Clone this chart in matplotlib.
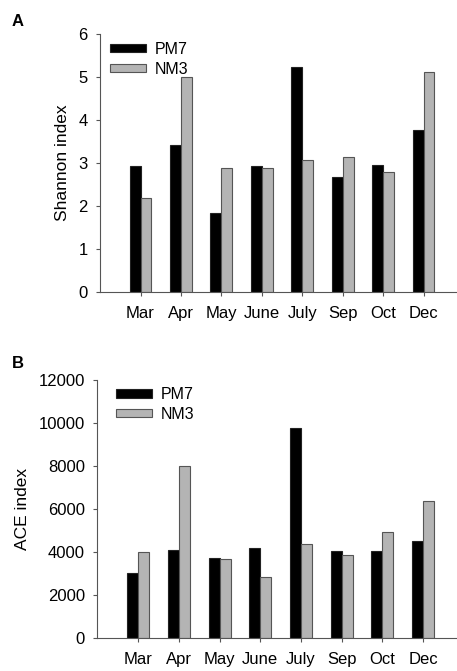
import numpy as np
import matplotlib.pyplot as plt

plt.rcParams['font.family'] = ['Liberation Sans', 'DejaVu Sans']

months = ['Mar', 'Apr', 'May', 'June', 'July', 'Sep', 'Oct', 'Dec']
shannon_pm7 = [2.93, 3.43, 1.83, 2.93, 5.23, 2.68, 2.95, 3.77]
shannon_nm3 = [2.18, 5.01, 2.88, 2.88, 3.06, 3.15, 2.80, 5.13]
ace_pm7 = [3050, 4100, 3750, 4220, 9800, 4070, 4080, 4550]
ace_nm3 = [4040, 8030, 3700, 2840, 4390, 3880, 4940, 6400]

fig = plt.figure(figsize=(4.57, 6.71), dpi=100)
ax1 = fig.add_axes([0.219, 0.565, 0.79, 0.384])
ax2 = fig.add_axes([0.213, 0.0487, 0.796, 0.3843])

x = np.arange(len(months))
w = 0.27
grey = '#b4b4b4'


def draw(ax, pm7, nm3, ylabel, ymax, step, leg_anchor):
    ax.bar(x - w / 2, pm7, w, color='black', edgecolor='#222222', linewidth=0.8, label='PM7')
    ax.bar(x + w / 2, nm3, w, color=grey, edgecolor='#555555', linewidth=0.8, label='NM3')
    ax.set_xlim(-1, 7.93)
    ax.set_ylim(0, ymax)
    ax.set_yticks(np.arange(0, ymax + step, step))
    ax.set_xticks(x)
    ax.set_xticklabels(months)
    ax.set_ylabel(ylabel, fontsize=12.5, labelpad=6)
    for s in ['top', 'right']:
        ax.spines[s].set_visible(False)
    for s in ['left', 'bottom']:
        ax.spines[s].set_color('#555555')
        ax.spines[s].set_linewidth(0.8)
    ax.tick_params(axis='both', labelsize=12, length=3, color='#555555', width=0.8)
    ax.tick_params(axis='x', pad=7)
    ax.tick_params(axis='y', pad=6)
    ax.legend(loc='upper left', bbox_to_anchor=leg_anchor, borderaxespad=0.2, frameon=False,
              fontsize=11.5, handlelength=2.3, handleheight=0.45, handletextpad=0.55,
              labelspacing=0.3)


draw(ax1, shannon_pm7, shannon_nm3, 'Shannon index', 6, 1, (0.0, 1.008))
draw(ax2, ace_pm7, ace_nm3, 'ACE index', 12000, 2000, (0.024, 1.012))

fig.text(0.026, 0.968, 'A', fontsize=12, fontweight='bold', va='center', ha='left')
fig.text(0.026, 0.458, 'B', fontsize=12, fontweight='bold', va='center', ha='left')

fig.savefig('out.png', dpi=100)
